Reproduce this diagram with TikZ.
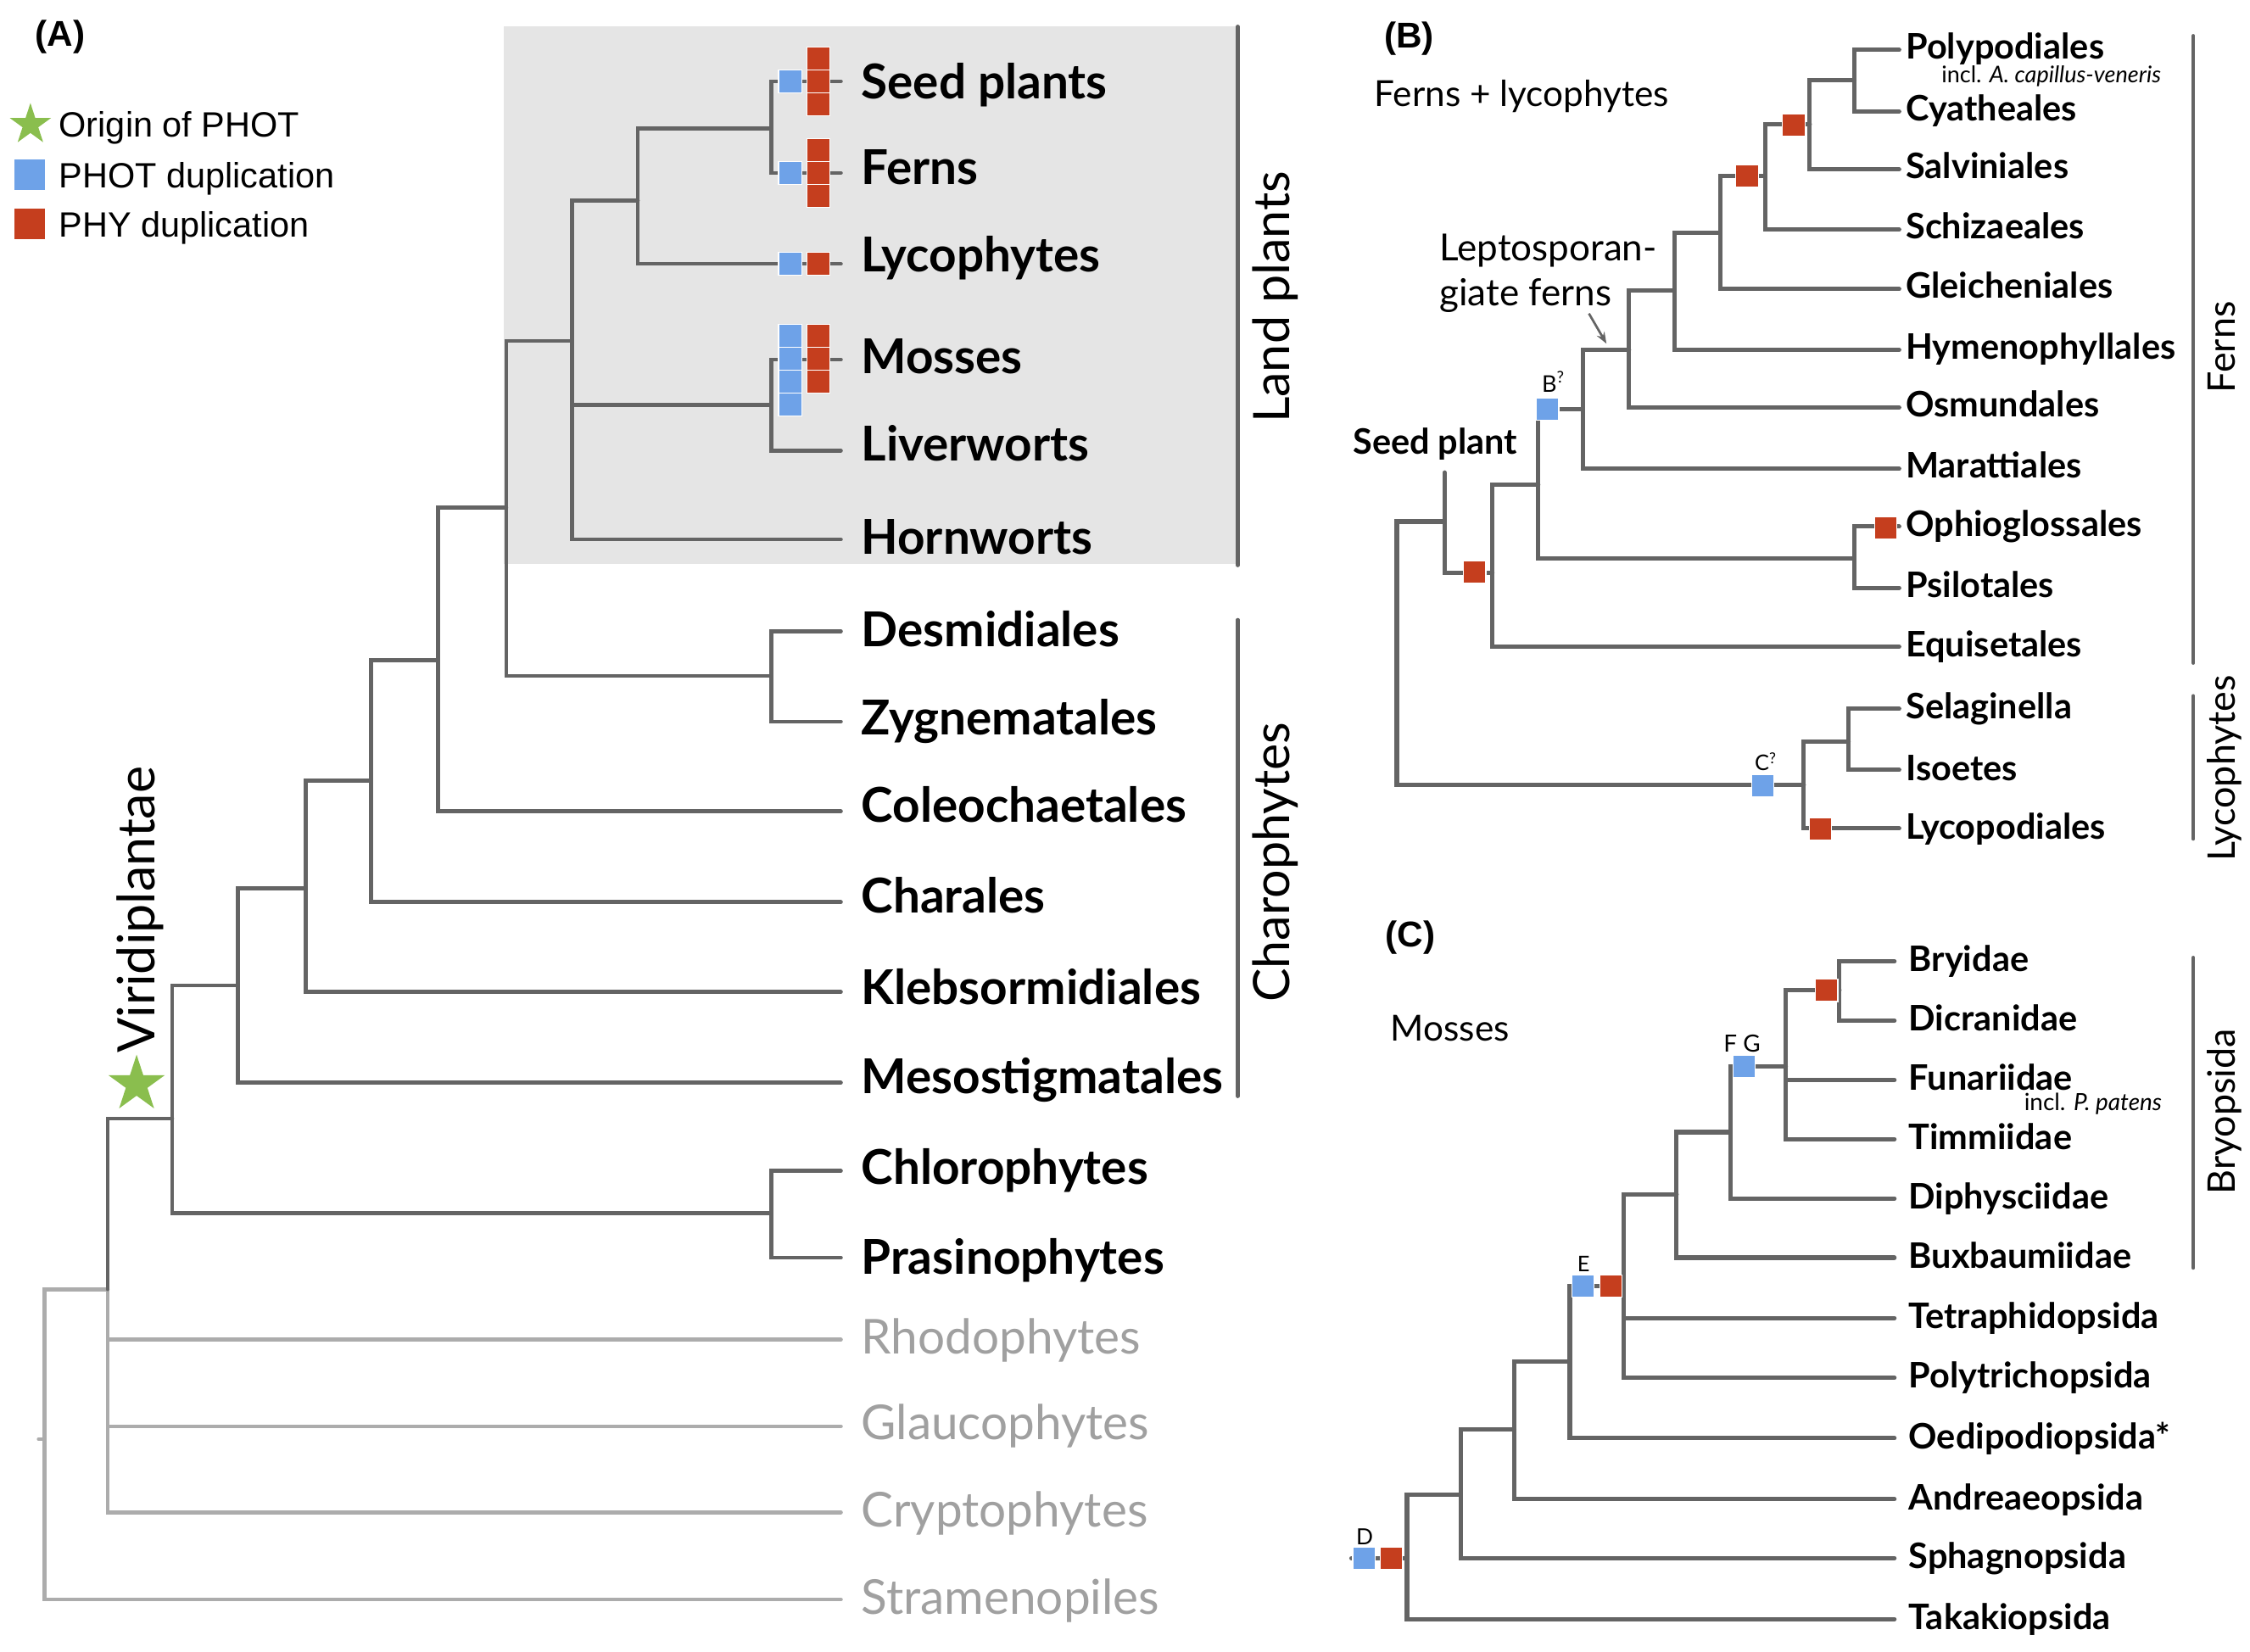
\documentclass[tikz,border=0pt]{standalone}
\usepackage{fontspec}
\setmainfont{Lato}
\newfontfamily\legfont{Liberation Sans}
\usetikzlibrary{shapes.geometric,arrows.meta}
\definecolor{brgray}{RGB}{100,100,100}
\definecolor{ltgray}{RGB}{172,172,172}
\definecolor{txtgray}{RGB}{160,160,160}
\definecolor{bggray}{RGB}{229,229,229}
\definecolor{dupblue}{RGB}{110,162,232}
\definecolor{dupred}{RGB}{197,62,30}
\definecolor{stargreen}{RGB}{138,190,78}
\tikzset{
  brA/.style={draw=brgray, line width=2.7pt, line cap=round, line join=miter},
  brBC/.style={draw=brgray, line width=3pt, line cap=round, line join=miter},
  brlt/.style={draw=ltgray, line width=2.7pt, line cap=round, line join=miter},
  cladebar/.style={draw=brgray, line width=2.6pt, line cap=round},
  leafA/.style={anchor=west, inner sep=0pt, text height=24pt, text depth=0pt, font=\bfseries\fontsize{33.5}{36}\selectfont},
  outA/.style={anchor=west, inner sep=0pt, text height=24pt, text depth=0pt, font=\fontsize{33.5}{36}\selectfont, text=txtgray},
  leafBC/.style={anchor=west, inner sep=0pt, text height=17.5pt, text depth=0pt, font=\bfseries\fontsize{24.5}{26}\selectfont},
  rotA/.style={rotate=90, inner sep=0pt, text height=25pt, text depth=0pt, font=\fontsize{35}{38}\selectfont},
  rotBC/.style={rotate=90, inner sep=0pt, text height=19pt, text depth=0pt, font=\fontsize{26.5}{28}\selectfont},
  sqA/.style={rectangle, minimum size=16pt, inner sep=0pt, draw=white, line width=0.9pt},
  bluA/.style={sqA, fill=dupblue},
  redA/.style={sqA, fill=dupred},
  sqBC/.style={rectangle, minimum size=15.5pt, inner sep=0pt, draw=white, line width=0.7pt},
  bluBC/.style={sqBC, fill=dupblue},
  redBC/.style={sqBC, fill=dupred},
  panlab/.style={inner sep=0pt, font=\legfont\bfseries\fontsize{25}{27}\selectfont},
  legtxt/.style={anchor=west, inner sep=0pt, text height=17.5pt, text depth=0pt, font=\legfont\fontsize{24.5}{26}\selectfont},
  plainlab/.style={inner sep=0pt, text height=18pt, text depth=0pt, font=\fontsize{25}{27}\selectfont},
  tinylab/.style={inner sep=0pt, anchor=base, font=\fontsize{16}{18}\selectfont},
  greenstar/.style={star, star points=5, star point ratio=2.618, inner sep=0pt, fill=stargreen, draw=none},
}
\begin{document}
\begin{tikzpicture}[x=1pt,y=-1pt]
\fill[white] (0,0) rectangle (1568,1151);
\useasboundingbox (0,0) rectangle (1568,1151);

% ================= PANEL A =================
\fill[bggray] (351,18.5) rectangle (862.5,393);
\node[panlab] (labA) at (42,26) {(A)};
% legend
\node[greenstar, minimum size=30.2pt] (legstar) at (21.2,86.9) {};
\node[legtxt] (legstarT) at (41,86.7) {Origin of PHOT};
\node[rectangle, minimum size=21.3pt, inner sep=0pt, fill=dupblue] (legblue) at (20.9,121.9) {};
\node[legtxt] (legblueT) at (41,122.3) {PHOT duplication};
\node[rectangle, minimum size=21.3pt, inner sep=0pt, fill=dupred] (legred) at (20.9,155.9) {};
\node[legtxt] (legredT) at (41,156.3) {PHY duplication};

% leaves
\coordinate (aSeed) at (586,56.7);
\coordinate (aFern) at (586,120.5);
\coordinate (aLyco) at (586,183.9);
\coordinate (aMoss) at (586,250.6);
\coordinate (aLiv) at (586,314);
\coordinate (aHorn) at (586,376);
\coordinate (aDesm) at (586,440);
\coordinate (aZyg) at (586,502.9);
\coordinate (aCol) at (586,565.4);
\coordinate (aChar) at (586,628.7);
\coordinate (aKleb) at (586,691.3);
\coordinate (aMeso) at (586,754.6);
\coordinate (aChlo) at (586,816);
\coordinate (aPras) at (586,876.5);
\coordinate (aRhod) at (586,933.6);
\coordinate (aGlau) at (586,994);
\coordinate (aCryp) at (586,1054);
\coordinate (aStra) at (586,1114.7);
% internal nodes
\coordinate (nA1) at (537.5,89.7);
\coordinate (nA2) at (444.5,139.8);
\coordinate (nA3) at (537.5,282.3);
\coordinate (nA4) at (398.7,237.5);
\coordinate (nA5) at (537.5,471);
\coordinate (nA6) at (352.8,353.6);
\coordinate (nA7) at (305.3,460);
\coordinate (nA8) at (258.6,544);
\coordinate (nA9) at (213,619);
\coordinate (nA10) at (165.8,686.8);
\coordinate (nA11) at (537.5,845.6);
\coordinate (nAV) at (120,779.5);
\coordinate (nAX) at (75,898.5);
\coordinate (nAR) at (31,1003);
\coordinate (rootA) at (27,1003);

% outgroup branches (light)
\draw[brlt] (nAX) |- (aRhod);
\draw[brlt] (nAX) |- (aGlau);
\draw[brlt] (nAX) |- (aCryp);
\draw[brlt] (nAR) |- (nAX);
\draw[brlt] (nAR) |- (aStra);
\draw[brlt] (rootA) -- (nAR);
% Viridiplantae branches (dark)
\draw[brA] (nAX) |- (nAV);
\draw[brA] (nAV) |- (nA10);
\draw[brA] (nAV) |- (nA11);
\draw[brA] (nA11) |- (aChlo);
\draw[brA] (nA11) |- (aPras);
\draw[brA] (nA10) |- (nA9);
\draw[brA] (nA10) |- (aMeso);
\draw[brA] (nA9) |- (nA8);
\draw[brA] (nA9) |- (aKleb);
\draw[brA] (nA8) |- (nA7);
\draw[brA] (nA8) |- (aChar);
\draw[brA] (nA7) |- (nA6);
\draw[brA] (nA7) |- (aCol);
\draw[brA] (nA6) |- (nA4);
\draw[brA] (nA6) |- (nA5);
\draw[brA] (nA5) |- (aDesm);
\draw[brA] (nA5) |- (aZyg);
\draw[brA] (nA4) |- (nA2);
\draw[brA] (nA4) |- (nA3);
\draw[brA] (nA4) |- (aHorn);
\draw[brA] (nA3) |- (aMoss);
\draw[brA] (nA3) |- (aLiv);
\draw[brA] (nA2) |- (nA1);
\draw[brA] (nA2) |- (aLyco);
\draw[brA] (nA1) |- (aSeed);
\draw[brA] (nA1) |- (aFern);

% leaf labels A
\node[leafA] (tSeed) at (600,57) {Seed plants};
\node[leafA] (tFern) at (600,116.5) {Ferns};
\node[leafA] (tLyco) at (600,177.5) {Lycophytes};
\node[leafA] (tMoss) at (600,248.3) {Mosses};
\node[leafA] (tLiv) at (600,309.2) {Liverworts};
\node[leafA] (tHorn) at (600,374) {Hornworts};
\node[leafA] (tDesm) at (600,438.8) {Desmidiales};
\node[leafA] (tZyg) at (600,500) {Zygnematales};
\node[leafA] (tCol) at (600,561) {Coleochaetales};
\node[leafA] (tChar) at (600,624) {Charales};
\node[leafA] (tKleb) at (600,688) {Klebsormidiales};
\node[leafA] (tMeso) at (600,750) {Mesostigmatales};
\node[leafA] (tChlo) at (600,813.5) {Chlorophytes};
\node[leafA] (tPras) at (600,876.3) {Prasinophytes};
\node[outA] (tRhod) at (600,931.5) {Rhodophytes};
\node[outA] (tGlau) at (600,991.5) {Glaucophytes};
\node[outA] (tCryp) at (600,1052) {Cryptophytes};
\node[outA] (tStra) at (600,1113) {Stramenopiles};

% duplication markers A
\node[bluA] (mA1) at (550.7,56.7) {};
\node[redA] (mA2) at (570.4,40.7) {};
\node[redA] (mA3) at (570.4,56.7) {};
\node[redA] (mA4) at (570.4,72.7) {};
\node[bluA] (mA5) at (550.7,120.5) {};
\node[redA] (mA6) at (570.4,104.5) {};
\node[redA] (mA7) at (570.4,120.5) {};
\node[redA] (mA8) at (570.4,136.5) {};
\node[bluA] (mA9) at (550.7,183.9) {};
\node[redA] (mA10) at (570.4,183.9) {};
\node[bluA] (mA11) at (550.7,234) {};
\node[bluA] (mA12) at (550.7,250) {};
\node[bluA] (mA13) at (550.7,266) {};
\node[bluA] (mA14) at (550.7,282) {};
\node[redA] (mA15) at (570.4,234) {};
\node[redA] (mA16) at (570.4,250) {};
\node[redA] (mA17) at (570.4,266) {};

% star + Viridiplantae
\node[greenstar, minimum size=41.4pt] (viristar) at (95.2,755.7) {};
\node[rotA, font=\fontsize{36}{38}\selectfont, text height=25.8pt] (tViri) at (95,634) {Viridiplantae};

% clade bars A
\coordinate (barL1) at (862.5,18.5);
\coordinate (barL2) at (862.5,394);
\coordinate (barC1) at (862.6,432);
\coordinate (barC2) at (862.6,764);
\draw[cladebar] (barL1) -- (barL2);
\draw[cladebar] (barC1) -- (barC2);
\node[rotA] (tLand) at (886,207) {Land plants};
\node[rotA] (tCharo) at (886,601) {Charophytes};

% ================= PANEL B =================
\node[panlab] (labB) at (982,27) {(B)};
\node[plainlab] (tFL) at (1060.5,65) {Ferns + lycophytes};

\coordinate (bPoly) at (1323.5,34.8);
\coordinate (bCya) at (1323.5,77.7);
\coordinate (bSalv) at (1323.5,118);
\coordinate (bSchi) at (1323.5,160);
\coordinate (bGlei) at (1323.5,201.5);
\coordinate (bHyme) at (1323.5,243.8);
\coordinate (bOsmu) at (1323.5,284);
\coordinate (bMara) at (1323.5,326.8);
\coordinate (bOphi) at (1323.5,367);
\coordinate (bPsil) at (1323.5,409.6);
\coordinate (bEqui) at (1323.5,450.6);
\coordinate (bSela) at (1323.5,494);
\coordinate (bIsoe) at (1323.5,536.6);
\coordinate (bLyco) at (1323.5,577.3);
\coordinate (bSeed) at (1006.7,329.3);

\coordinate (nB1) at (1292.3,55.9);
\coordinate (nB2) at (1261.2,86.5);
\coordinate (nB3) at (1230,122.4);
\coordinate (nB4) at (1198.7,162.5);
\coordinate (nB5) at (1166.8,202.6);
\coordinate (nB6) at (1135.2,243.8);
\coordinate (nB7) at (1103.1,285);
\coordinate (nB8) at (1292,389);
\coordinate (nB9) at (1072,337.7);
\coordinate (nB10) at (1040,399);
\coordinate (nB11) at (1006.7,363.5);
\coordinate (nB12) at (1257,547);
\coordinate (nB13) at (1288.2,516.6);
\coordinate (rootB) at (973.4,455);

\draw[brBC] (nB1) |- (bPoly);
\draw[brBC] (nB1) |- (bCya);
\draw[brBC] (nB2) |- (nB1);
\draw[brBC] (nB2) |- (bSalv);
\draw[brBC] (nB3) |- (nB2);
\draw[brBC] (nB3) |- (bSchi);
\draw[brBC] (nB4) |- (nB3);
\draw[brBC] (nB4) |- (bGlei);
\draw[brBC] (nB5) |- (nB4);
\draw[brBC] (nB5) |- (bHyme);
\draw[brBC] (nB6) |- (nB5);
\draw[brBC] (nB6) |- (bOsmu);
\draw[brBC] (nB7) |- (nB6);
\draw[brBC] (nB7) |- (bMara);
\draw[brBC] (nB8) |- (bOphi);
\draw[brBC] (nB8) |- (bPsil);
\draw[brBC] (nB9) |- (nB7);
\draw[brBC] (nB9) |- (nB8);
\draw[brBC] (nB10) |- (nB9);
\draw[brBC] (nB10) |- (bEqui);
\draw[brBC] (nB11) |- (bSeed);
\draw[brBC] (nB11) |- (nB10);
\draw[brBC] (nB13) |- (bSela);
\draw[brBC] (nB13) |- (bIsoe);
\draw[brBC] (nB12) |- (nB13);
\draw[brBC] (nB12) |- (bLyco);
\draw[brBC] (rootB) |- (nB11);
\draw[brBC] (rootB) |- (nB12);

\node[leafBC] (tPoly) at (1328,32.3) {Polypodiales};
\node[leafBC] (tCya) at (1328,75.2) {Cyatheales};
\node[leafBC] (tSalv) at (1328,115.5) {Salviniales};
\node[leafBC] (tSchi) at (1328,157.5) {Schizaeales};
\node[leafBC] (tGlei) at (1328,199) {Gleicheniales};
\node[leafBC] (tHyme) at (1328,241.3) {Hymenophyllales};
\node[leafBC] (tOsmu) at (1328,281.5) {Osmundales};
\node[leafBC] (tMara) at (1328,324.3) {Marattiales};
\node[leafBC] (tOphi) at (1328,365) {Ophioglossales};
\node[leafBC] (tPsil) at (1328,407.6) {Psilotales};
\node[leafBC] (tEqui) at (1328,449) {Equisetales};
\node[leafBC] (tSela) at (1328,492) {Selaginella};
\node[leafBC] (tIsoe) at (1328,535) {Isoetes};
\node[leafBC] (tLycp) at (1328,576) {Lycopodiales};
\node[leafBC, anchor=center] (tSeedB) at (1000.2,307.6) {Seed plant};
\node[tinylab] (tIncl) at (1429.5,57.5) {incl. \textit{A. capillus-veneris}};

\node[font=\fontsize{26}{28}\selectfont, anchor=base west, inner sep=0pt] (lepto1) at (1003,181.5) {Leptosporan-};
\node[font=\fontsize{26}{28}\selectfont, anchor=base west, inner sep=0pt] (lepto2) at (1003,213) {giate ferns};
\coordinate (arrS) at (1107.3,218.5);
\coordinate (arrE) at (1119.5,239.5);
\draw[draw=brgray, line width=1.6pt, -{Stealth[length=8pt,width=6pt]}] (arrS) -- (arrE);

\node[redBC] (mB1) at (1250,87) {};
\node[redBC] (mB2) at (1217.5,122.4) {};
\node[bluBC] (mB3) at (1078.5,285) {};
\node[tinylab] (tBq) at (1082.5,273.3) {B\textsuperscript{?}};
\node[redBC] (mB4) at (1314,368) {};
\node[redBC] (mB5) at (1027.7,398.7) {};
\node[bluBC] (mB6) at (1228.5,547.5) {};
\node[tinylab, font=\fontsize{15}{17}\selectfont] (tCq) at (1230.5,537.2) {C\textsuperscript{?}};
\node[redBC] (mB7) at (1268.8,578) {};

\coordinate (barF1) at (1528.5,25);
\coordinate (barF2) at (1528.5,462);
\coordinate (barY1) at (1528.5,485);
\coordinate (barY2) at (1528.5,584.6);
\draw[cladebar] (barF1) -- (barF2);
\draw[cladebar] (barY1) -- (barY2);
\node[rotBC] (tFerns) at (1548,242) {Ferns};
\node[rotBC] (tLycoB) at (1548,535.6) {Lycophytes};

% ================= PANEL C =================
\node[panlab] (labC) at (983,653.5) {(C)};
\node[plainlab] (tMosses) at (1010.6,716.2) {Mosses};

\coordinate (cBry) at (1320.2,670);
\coordinate (cDic) at (1320.2,711.3);
\coordinate (cFun) at (1320.2,752.6);
\coordinate (cTim) at (1320.2,793.9);
\coordinate (cDip) at (1320.2,835.2);
\coordinate (cBux) at (1320.2,876.5);
\coordinate (cTet) at (1320.2,918.6);
\coordinate (cPol) at (1320.2,960.2);
\coordinate (cOed) at (1320.2,1002.3);
\coordinate (cAnd) at (1320.2,1044.8);
\coordinate (cSph) at (1320.2,1085.9);
\coordinate (cTak) at (1320.2,1128.4);

\coordinate (nC1) at (1281.9,689.9);
\coordinate (nC2) at (1244.5,743.1);
\coordinate (nC3) at (1205.8,789);
\coordinate (nC4) at (1168.4,832.3);
\coordinate (nC5) at (1131.4,896.3);
\coordinate (nC6) at (1094,949);
\coordinate (nC7) at (1055.3,996.3);
\coordinate (nC8) at (1017.9,1041.8);
\coordinate (nC9) at (980.5,1086);
\coordinate (rootC) at (941.8,1086);

\draw[brBC] (nC1) |- (cBry);
\draw[brBC] (nC1) |- (cDic);
\draw[brBC] (nC2) |- (nC1);
\draw[brBC] (nC2) |- (cFun);
\draw[brBC] (nC2) |- (cTim);
\draw[brBC] (nC3) |- (nC2);
\draw[brBC] (nC3) |- (cDip);
\draw[brBC] (nC4) |- (nC3);
\draw[brBC] (nC4) |- (cBux);
\draw[brBC] (nC5) |- (nC4);
\draw[brBC] (nC5) |- (cTet);
\draw[brBC] (nC5) |- (cPol);
\draw[brBC] (nC6) |- (nC5);
\draw[brBC] (nC6) |- (cOed);
\draw[brBC] (nC7) |- (nC6);
\draw[brBC] (nC7) |- (cAnd);
\draw[brBC] (nC8) |- (nC7);
\draw[brBC] (nC8) |- (cSph);
\draw[brBC] (nC9) |- (nC8);
\draw[brBC] (nC9) |- (cTak);
\draw[brBC] (rootC) -- (nC9);

\node[leafBC] (tBry) at (1330,668.5) {Bryidae};
\node[leafBC] (tDic) at (1330,709.8) {Dicranidae};
\node[leafBC] (tFun) at (1330,751.1) {Funariidae};
\node[leafBC] (tTim) at (1330,792.4) {Timmiidae};
\node[leafBC] (tDip) at (1330,833.7) {Diphysciidae};
\node[leafBC] (tBux) at (1330,875) {Buxbaumiidae};
\node[leafBC] (tTet) at (1330,917.1) {Tetraphidopsida};
\node[leafBC] (tPol) at (1330,958.7) {Polytrichopsida};
\node[leafBC] (tOed) at (1330,1000.8) {Oedipodiopsida*};
\node[leafBC] (tAnd) at (1330,1043.3) {Andreaeopsida};
\node[leafBC] (tSph) at (1330,1084.4) {Sphagnopsida};
\node[leafBC] (tTak) at (1330,1126.9) {Takakiopsida};
\node[tinylab, font=\fontsize{16.5}{18}\selectfont] (tInclP) at (1458.6,774) {incl. \textit{P. patens}};

\node[redBC] (mC1) at (1273,690.2) {};
\node[bluBC] (mC2) at (1215.6,743.2) {};
\node[tinylab, font=\fontsize{16.5}{18}\selectfont] (tFG) at (1214,733) {F G};
\node[bluBC] (mC3) at (1103.2,896.3) {};
\node[redBC] (mC4) at (1122.5,896.3) {};
\node[tinylab, font=\fontsize{15}{17}\selectfont] (tE) at (1103.5,886.5) {E};
\node[bluBC] (mC5) at (950.4,1086) {};
\node[redBC] (mC6) at (969.5,1086) {};
\node[tinylab, font=\fontsize{15.5}{17}\selectfont] (tD) at (951,1076.5) {D};

\coordinate (barB1) at (1528.5,667.4);
\coordinate (barB2) at (1528.5,883.6);
\draw[cladebar] (barB1) -- (barB2);
\node[rotBC] (tBryo) at (1548,774.7) {Bryopsida};
\end{tikzpicture}
\end{document}
